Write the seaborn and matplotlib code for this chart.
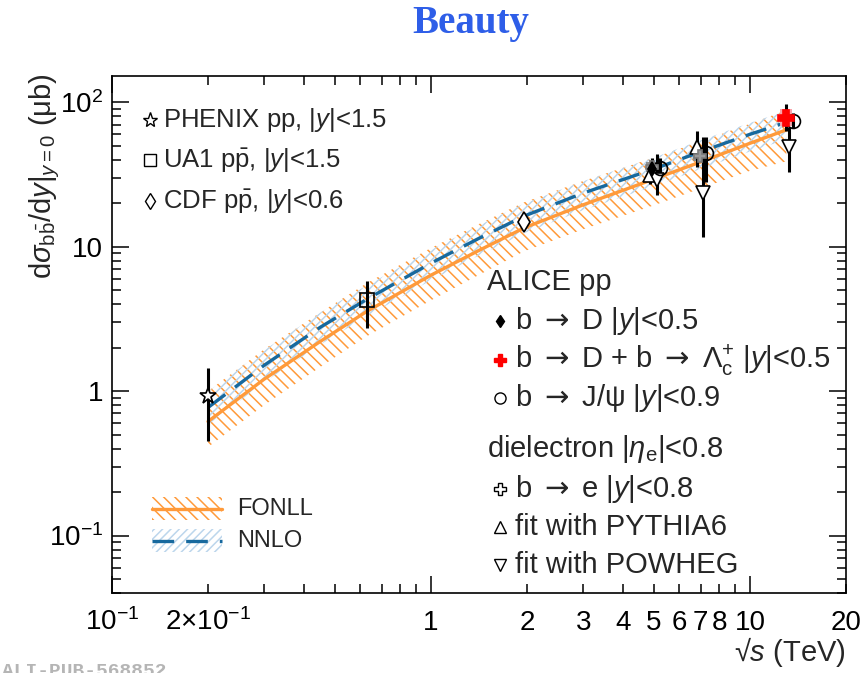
import matplotlib
matplotlib.use("Agg")
import matplotlib.pyplot as plt
import seaborn as sns
from matplotlib.patches import Rectangle
from matplotlib.ticker import FixedLocator, FixedFormatter

# ---------------- theory predictions (d sigma_bb / dy at y=0, in microbarn) ----------------
theory_sqrts = [0.2, 0.3, 0.45, 0.63, 1.0, 1.4, 1.96, 3.0, 5.02, 7.0, 10.0, 13.0]
fonll_central = [0.616, 1.21, 2.21, 3.57, 6.35, 9.32, 13.5, 19.5, 29.5, 38.6, 52.0, 64.4]
fonll_low = [0.41, 0.80, 1.47, 2.40, 4.25, 6.3, 9.3, 13.2, 19.4, 25.3, 33.5, 39.0]
fonll_high = [1.0, 1.95, 3.5, 5.6, 9.8, 14.2, 20.3, 28.5, 41.5, 53.5, 71.0, 88.0]
nnlo_central = [0.77, 1.51, 2.77, 4.33, 7.69, 11.3, 16.3, 23.5, 34.6, 45.4, 60.0, 72.6]
nnlo_low = [0.585, 1.15, 2.1, 3.3, 5.85, 8.6, 12.4, 17.9, 26.3, 34.5, 45.6, 55.2]
nnlo_high = [0.99, 1.92, 3.5, 5.4, 9.5, 13.9, 19.9, 28.4, 41.5, 54.5, 72.0, 87.0]

# ---------------- measurements ----------------
phenix_x, phenix_y, phenix_lo, phenix_hi = [0.2], [0.92], [0.448], [1.44]
ua1_x, ua1_y, ua1_lo, ua1_hi = [0.63], [4.26], [2.72], [5.77]
cdf_x, cdf_y, cdf_lo, cdf_hi = [1.96], [14.8], [13.0], [16.8]

alice_bD_x, alice_bD_y, alice_bD_lo, alice_bD_hi = [4.93], [34.6], [30.0], [41.0]
alice_bDL_x, alice_bDL_y, alice_bDL_lo, alice_bDL_hi = [13.0], [78.2], [63.4], [97.6]
alice_bDL_syst_lo, alice_bDL_syst_hi = [68.7], [90.0]
alice_jpsi_x = [5.24, 7.3, 13.6]
alice_jpsi_y = [35.1, 44.6, 74.5]
alice_jpsi_lo = [29.5, 28.1, 66.0]
alice_jpsi_hi = [41.0, 57.6, 84.0]

ee_be_x = [4.93, 6.95]
ee_be_y = [35.7, 42.6]
ee_be_lo = [34.2, 41.0]
ee_be_hi = [37.2, 44.2]
ee_be_syst_lo = [33.0, 39.3]
ee_be_syst_hi = [38.6, 45.4]
ee_pythia_x = [4.86, 6.82]
ee_pythia_y = [31.4, 49.0]
ee_pythia_lo = [27.0, 35.7]
ee_pythia_hi = [36.0, 63.0]
ee_powheg_x = [5.1, 7.1, 13.3]
ee_powheg_y = [29.0, 23.5, 49.0]
ee_powheg_lo = [22.8, 11.7, 33.0]
ee_powheg_hi = [44.0, 57.6, 67.5]

x_major = [0.1, 1, 10]
x_major_labels = [r"$10^{-1}$", "1", "10"]
x_minor = [0.2, 0.3, 0.4, 0.5, 0.6, 0.7, 0.8, 0.9, 2, 3, 4, 5, 6, 7, 8, 9, 20]
x_minor_labels = [r"$2{\times}10^{-1}$", "", "", "", "", "", "", "",
                  "2", "3", "4", "5", "6", "7", "8", "", "20"]
y_major = [0.1, 1, 10, 100]
y_major_labels = [r"$10^{-1}$", "1", "10", r"$10^{2}$"]

ORANGE = "#ff9a3a"
BLUE = "#17699e"
LIGHTBLUE = "#bcd6ec"
ARROW = r"$\mathsf{\rightarrow}$"

sns.set_theme(style="ticks")
plt.rcParams.update({
    "mathtext.fontset": "custom",
    "mathtext.rm": "Liberation Sans",
    "mathtext.it": "Liberation Sans:italic",
    "mathtext.bf": "Liberation Sans:bold",
    "mathtext.sf": "DejaVu Sans",
    "hatch.linewidth": 1.1,
    "axes.linewidth": 1.2,
    "axes.edgecolor": "black",
})
plt.rcParams["font.family"] = ["Liberation Sans", "DejaVu Sans"]

W, H = 864, 673
fig = plt.figure(figsize=(W / 100, H / 100), dpi=100)
L, R, T, B = 112, 846, 76, 593
ax = fig.add_axes([L / W, 1 - B / H, (R - L) / W, (B - T) / H])
ax.set_xscale("log")
ax.set_yscale("log")
ax.set_xlim(0.1, 20)
ax.set_ylim(0.04, 152)


def apos(px, py):
    """Pixel position on the canvas -> axes fraction."""
    return (px - L) / (R - L), (B - py) / (B - T)


# ---------------- theory bands and central curves ----------------
ax.fill_between(theory_sqrts, fonll_low, fonll_high, facecolor="none",
                edgecolor=ORANGE, hatch="\\\\\\", linewidth=0, zorder=1)
ax.fill_between(theory_sqrts, nnlo_low, nnlo_high, facecolor="none",
                edgecolor=LIGHTBLUE, hatch="////", linewidth=0, zorder=1.5)
sns.lineplot(x=theory_sqrts, y=fonll_central, color=ORANGE, linewidth=2.4,
             ax=ax, zorder=2)
sns.lineplot(x=theory_sqrts, y=nnlo_central, color=BLUE, linewidth=2.4,
             ax=ax, zorder=2.5)
ax.lines[-1].set_dashes((6.5, 3.6))


# ---------------- data points ----------------
def series(x, y, lo, hi, marker, ms, mfc="white", mec="black", z=4, mew=1.2):
    yerr = [[v - l for v, l in zip(y, lo)], [h - v for v, h in zip(y, hi)]]
    ax.errorbar(x, y, yerr=yerr, fmt=marker, ms=ms, mfc=mfc, mec=mec, mew=mew,
                ecolor="black", elinewidth=2.2, capsize=0, zorder=z)


def syst_boxes(x, lo, hi, color, alpha=1.0, half=1.045):
    for xi, l, h in zip(x, lo, hi):
        ax.fill_between([xi / half, xi * half], [l, l], [h, h], color=color,
                        alpha=alpha, linewidth=0, zorder=3)


syst_boxes(ee_be_x, ee_be_syst_lo, ee_be_syst_hi, "#8e8e8e")
syst_boxes(alice_bDL_x, alice_bDL_syst_lo, alice_bDL_syst_hi, "#f7a3aa")

series(phenix_x, phenix_y, phenix_lo, phenix_hi, "*", 12)
series(ua1_x, ua1_y, ua1_lo, ua1_hi, "s", 10, mfc="none")
series(cdf_x, cdf_y, cdf_lo, cdf_hi, "d", 10)
series(ee_pythia_x, ee_pythia_y, ee_pythia_lo, ee_pythia_hi, "^", 10)
series(ee_powheg_x, ee_powheg_y, ee_powheg_lo, ee_powheg_hi, "v", 10)
series(alice_jpsi_x, alice_jpsi_y, alice_jpsi_lo, alice_jpsi_hi, "o", 10, mfc="none")
series(ee_be_x, ee_be_y, ee_be_lo, ee_be_hi, "P", 9, mfc="#9a9a9a", mec="#7a7a7a")
series(alice_bD_x, alice_bD_y, alice_bD_lo, alice_bD_hi, "d", 7, mfc="black")
series(alice_bDL_x, alice_bDL_y, alice_bDL_lo, alice_bDL_hi, "P", 11,
       mfc="#ff0000", mec="#ff0000", z=5)

# ---------------- axes styling ----------------
ax.xaxis.set_major_locator(FixedLocator(x_major))
ax.xaxis.set_major_formatter(FixedFormatter(x_major_labels))
ax.xaxis.set_minor_locator(FixedLocator(x_minor))
ax.xaxis.set_minor_formatter(FixedFormatter(x_minor_labels))
y_minor = [m * d for d in (0.01, 0.1, 1, 10) for m in range(2, 10)]
ax.yaxis.set_major_locator(FixedLocator(y_major))
ax.yaxis.set_major_formatter(FixedFormatter(y_major_labels))
ax.yaxis.set_minor_locator(FixedLocator(y_minor))
ax.yaxis.set_minor_formatter(FixedFormatter([""] * len(y_minor)))

ax.tick_params(which="both", direction="in", top=True, right=True,
               width=1.1, color="black", labelsize=20, labelcolor="black")
ax.tick_params(which="major", length=12)
ax.tick_params(which="minor", length=6.5)
ax.tick_params(axis="x", which="both", pad=26.5)
ax.tick_params(axis="y", which="both", pad=6.5)
for t in ax.xaxis.get_major_ticks() + ax.xaxis.get_minor_ticks():
    t.label1.set_verticalalignment("baseline")
for s in ax.spines.values():
    s.set_visible(True)
    s.set_color("black")
    s.set_linewidth(1.2)

# ---------------- legends ----------------
FS_LEFT = 18.5
FS_RIGHT = 21
top_entries = [("*", 11, "white", "PHENIX pp, $|y|$<1.5", 120),
               ("s", 8, "white", r"UA1 p$\bar{\mathrm{p}}$, $|y|$<1.5", 160),
               ("d", 8, "white", r"CDF p$\bar{\mathrm{p}}$, $|y|$<0.6", 201)]
for m, ms, fc, txt, py in top_entries:
    ax.plot(*apos(150, py), marker=m, ms=ms, mfc=fc, mec="black", mew=1.0,
            transform=ax.transAxes, clip_on=False, zorder=6)
    ax.text(*apos(163, py), txt, transform=ax.transAxes, fontsize=FS_LEFT,
            va="center", ha="left")

ax.text(*apos(487, 282), "ALICE pp", transform=ax.transAxes, fontsize=FS_RIGHT,
        va="center", ha="left")
ax.text(*apos(487, 449), r"dielectron $|\eta_{\mathrm{e}}|$<0.8",
        transform=ax.transAxes, fontsize=FS_RIGHT, va="center", ha="left")
right_entries = [("d", 6, "black", "black", f"b {ARROW} D $|y|$<0.5", 321),
                 ("P", 8, "#ff0000", "#ff0000",
                  f"b {ARROW} D + b {ARROW} " + r"$\Lambda_{\mathrm{c}}^{+}$ $|y|$<0.5", 360),
                 ("o", 8, "white", "black", f"b {ARROW} J/ψ $|y|$<0.9", 398),
                 ("P", 8, "white", "black", f"b {ARROW} e $|y|$<0.8", 489),
                 ("^", 8, "white", "black", "fit with PYTHIA6", 527),
                 ("v", 8, "white", "black", "fit with POWHEG", 565)]
for m, ms, fc, ec, txt, py in right_entries:
    ax.plot(*apos(500, py), marker=m, ms=ms, mfc=fc, mec=ec, mew=1.0,
            transform=ax.transAxes, clip_on=False, zorder=6)
    ax.text(*apos(515, py), txt, transform=ax.transAxes, fontsize=FS_RIGHT,
            va="center", ha="left")

# theory legend boxes
for (y0, y1, yl, hatch, ec, lc, dashed, label) in [
        (497, 520, 509, "\\\\\\", ORANGE, ORANGE, False, "FONLL"),
        (529, 552, 541, "////", LIGHTBLUE, BLUE, True, "NNLO")]:
    x0, yb = apos(152, y1)
    x1, yt = apos(222, y0)
    ax.add_patch(Rectangle((x0, yb), x1 - x0, yt - yb, transform=ax.transAxes,
                           facecolor="none", edgecolor=ec, hatch=hatch,
                           linewidth=0, zorder=5))
    ln, = ax.plot([x0, x1], [apos(0, yl)[1]] * 2, color=lc, lw=2.4,
                  transform=ax.transAxes, zorder=6)
    if dashed:
        ln.set_dashes((6.5, 3.6))
    ax.text(*apos(237, yl), label, transform=ax.transAxes, fontsize=17,
            va="center", ha="left")

# ---------------- titles and axis labels ----------------
fig.text(471 / W, 1 - 23 / H, "Beauty", color="#2e5ee8", fontsize=28,
         fontweight="bold", family="Liberation Serif", ha="center", va="center")
fig.text(45 / W, 1 - 176 / H,
         r"$\mathrm{d}\sigma_{\mathrm{b}\bar{\mathrm{b}}}/\mathrm{d}y|_{y=0}$ (μb)",
         rotation=90, fontsize=21, ha="center", va="center")
fig.text(846 / W, 1 - 652 / H, "√$s$ (TeV)", fontsize=21, ha="right",
         va="center")
fig.text(2 / W, 1 - 676 / H, "ALI-PUB-568852", family="Liberation Mono",
         fontweight="bold", color="#b5b5b5", fontsize=14, ha="left",
         va="baseline")

fig.savefig("out.png", dpi=100)
